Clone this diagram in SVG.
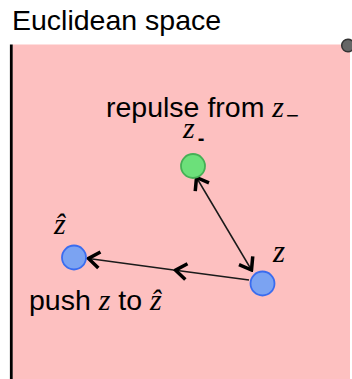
<svg xmlns="http://www.w3.org/2000/svg" width="352" height="379" viewBox="0 0 352 379">
  <defs>
    <style>
      .lbl { font-family: "Liberation Sans", Arial, sans-serif; font-size: 28.5px; fill: #000; }
      .math { font-family: "Liberation Serif", "Times New Roman", serif; font-style: italic; fill: #000; }
      .conn { fill: none; stroke: #1a1a1a; stroke-width: 1.5; }
      .blue { fill: #7ba3f2; stroke: #3a6cef; stroke-width: 1.8; }
      .green { fill: #6ce07a; stroke: #45b055; stroke-width: 1.8; }
    </style>
    <marker id="chev" viewBox="-14 -10 16 20" markerWidth="16" markerHeight="20" refX="0" refY="0" orient="auto-start-reverse" markerUnits="userSpaceOnUse">
      <path d="M-11,-8 L0,0 L-11,8" fill="none" stroke="#000" stroke-width="3.5" stroke-linejoin="miter"/>
    </marker>
  </defs>
  <rect x="0" y="0" width="352" height="379" fill="#ffffff"/>
  <text class="lbl" x="12" y="30">Euclidean space</text>
  <g id="space">
    <rect x="12.5" y="44.5" width="337.5" height="335" fill="#fdc0c0"/>
    <line x1="11.3" y1="44.5" x2="11.3" y2="379" stroke="#000" stroke-width="2.8"/>
    <circle cx="348" cy="45.5" r="6.3" fill="#666666" stroke="#333333" stroke-width="1.5"/>
  </g>
  <g id="connectors">
    <line class="conn" x1="196.5" y1="177.5" x2="251.5" y2="270" marker-start="url(#chev)" marker-end="url(#chev)"/>
    <path class="conn" d="M249,280 L175.5,270.2 L88.5,258.5" marker-mid="url(#chev)" marker-end="url(#chev)"/>
  </g>
  <g id="node-zminus">
    <circle class="green" cx="193" cy="166" r="12"/>
    <text class="math" x="183" y="138" font-size="30">z<tspan font-style="normal" font-family="Liberation Sans, sans-serif" font-weight="bold" font-size="20" dx="3" dy="7">-</tspan></text>
  </g>
  <g id="node-z">
    <circle class="blue" cx="262.5" cy="283.5" r="12"/>
    <text class="math" x="273" y="262" font-size="31">z</text>
  </g>
  <g id="node-zhat">
    <circle class="blue" cx="74" cy="257.5" r="12"/>
    <text class="math" x="54" y="234" font-size="30">ẑ</text>
  </g>
  <text class="lbl" x="106" y="117">repulse from <tspan class="math" font-size="30">z</tspan><tspan font-size="22" dx="2" dy="6">−</tspan></text>
  <text class="lbl" x="29" y="310">push <tspan class="math" font-size="30">z</tspan> to <tspan class="math" font-size="30">ẑ</tspan></text>
</svg>
